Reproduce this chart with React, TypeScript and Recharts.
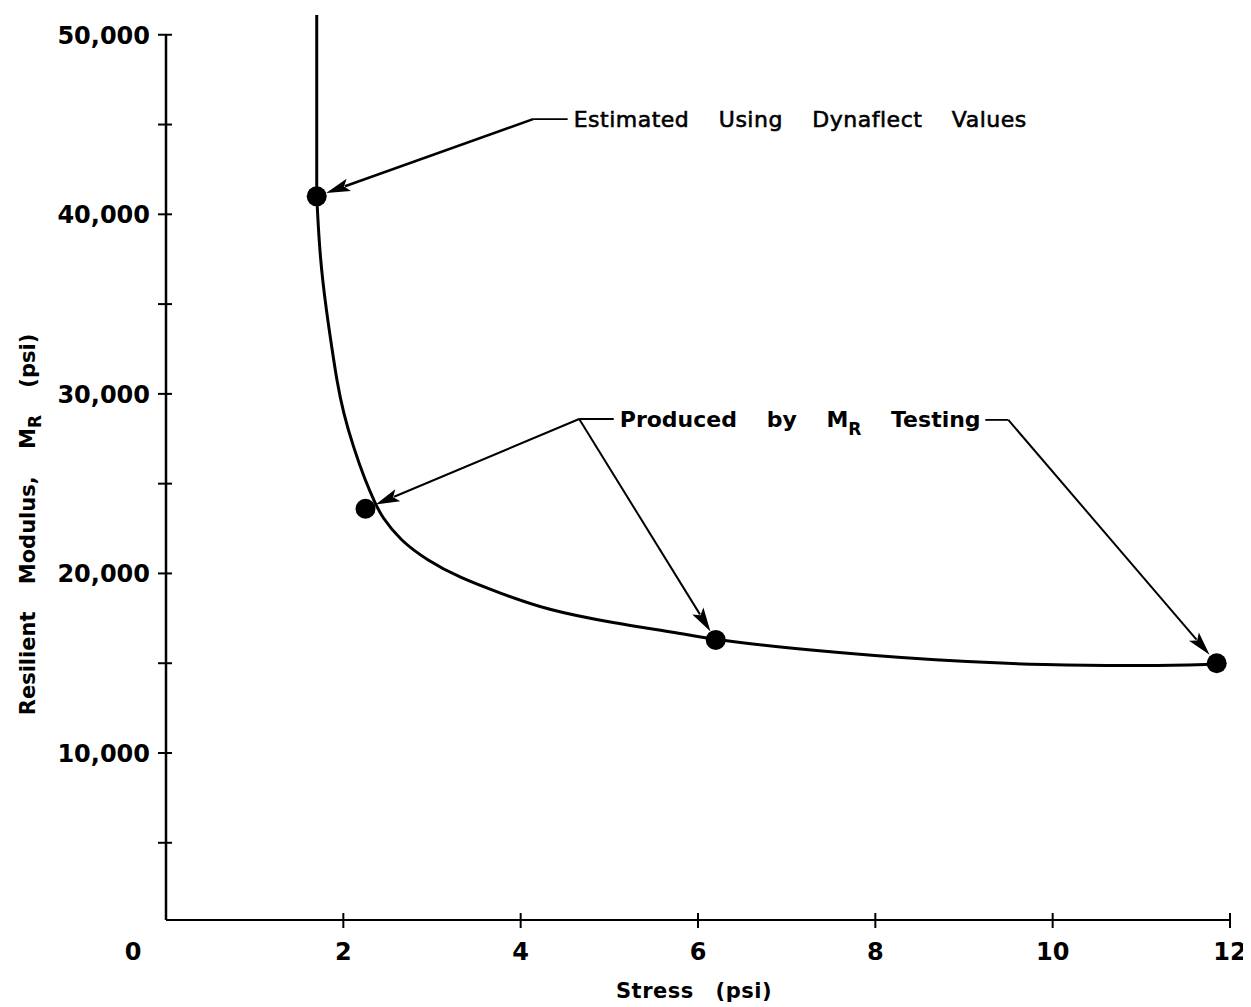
import React from 'react';
import { ComposedChart, Line, Scatter, XAxis, YAxis, ReferenceLine, Label } from 'recharts';

// ---- data ----
const curveStress = [
  1.7, 1.735, 1.812, 1.869, 1.925, 2.0, 2.112, 2.244, 2.357, 2.433, 2.639, 2.94, 3.316, 3.767,
  4.293, 5.041, 5.797, 6.18, 7.184, 8.74, 9.913, 11.075, 11.85,
];
const curveModulus = [
  41000, 37600, 34500, 32630, 30770, 28940, 27060, 25200, 23930, 23160, 21860, 20750, 19750, 18910,
  17970, 17240, 16680, 16310, 15740, 15120, 14900, 14850, 14950,
];
const verticalStress = [1.7, 1.7];
const verticalModulus = [41000, 51100];
const pointStress = [1.7, 2.25, 6.2, 11.85];
const pointModulus = [41000, 23600, 16300, 15000];
const xTicks = [0, 2, 4, 6, 8, 10, 12];
const yTicks = [5000, 10000, 15000, 20000, 25000, 30000, 35000, 40000, 45000, 50000];
const yLabelled = [10000, 20000, 30000, 40000, 50000];
const xDomain = [0, 12];
const yDomain = [700, 51100];

const noteDynaflect = 'Estimated Using Dynaflect Values';
const noteDynaflectElbow = { x: 4.14, y: 45300 };
const noteDynaflectTextStart = { x: 4.53, y: 45300 };

const noteTestingElbow = { x: 4.66, y: 28600 };
const noteTestingTextStart = { x: 5.05, y: 28600 };
const noteTestingRightStart = { x: 9.24, y: 28550 };
const noteTestingRightElbow = { x: 9.5, y: 28550 };

const curveData = curveStress.map((x, i) => ({ x, y: curveModulus[i] }));
const verticalData = verticalStress.map((x, i) => ({ x, y: verticalModulus[i] }));
const pointData = pointStress.map((x, i) => ({ x, y: pointModulus[i] }));

const FONT = '"DejaVu Sans", sans-serif';
const fmt = (v: number) => v.toLocaleString('en-US');

const XTick = (props: any) => {
  const { x, y, payload } = props;
  const v = payload.value;
  return (
    <g>
      {v !== 0 && <line x1={x} x2={x} y1={y - 7} y2={y + 8} stroke="#000" strokeWidth={2} />}
      <text x={v === 0 ? x - 33 : x} y={y + 40} textAnchor="middle" fontSize={24} fontWeight="bold" fontFamily={FONT} fill="#000">
        {String(v)}
      </text>
    </g>
  );
};

const YTick = (props: any) => {
  const { x, y, payload } = props;
  const v = payload.value;
  return (
    <g>
      <line x1={x - 8} x2={x + 6} y1={y} y2={y} stroke="#000" strokeWidth={2} />
      {yLabelled.includes(v) && (
        <text x={x - 16} y={y + 9} textAnchor="end" fontSize={24} fontWeight="bold" fontFamily={FONT} fill="#000">
          {fmt(v)}
        </text>
      )}
    </g>
  );
};

const YTitle = (props: any) => {
  const vb = props.viewBox || { x: 0, y: 0, width: 0, height: 0 };
  const cx = vb.x + vb.width - 138;
  const cy = vb.y + vb.height * 0.563;
  return (
    <text
      x={cx}
      y={cy}
      transform={`rotate(-90 ${cx} ${cy})`}
      textAnchor="middle"
      dominantBaseline="central"
      fontSize={21}
      fontWeight="bold"
      fontFamily={FONT}
      wordSpacing={20}
      fill="#000"
    >
      Resilient Modulus, M
      <tspan dy={7} fontSize={17}>R</tspan>
      <tspan dy={-7}> (psi)</tspan>
    </text>
  );
};

const XTitle = (props: any) => {
  const vb = props.viewBox || { x: 0, y: 0, width: 0, height: 0 };
  return (
    <text
      x={vb.x + vb.width / 2 - 4}
      y={vb.y + 78}
      textAnchor="middle"
      fontSize={21}
      fontWeight="bold"
      fontFamily={FONT}
      letterSpacing={0.5}
      wordSpacing={14}
      fill="#000"
    >
      Stress (psi)
    </text>
  );
};

const arrowShape = (width: number, shorten: number) => (props: any) => {
  const { x1, y1, x2, y2 } = props;
  const dx = x2 - x1;
  const dy = y2 - y1;
  const len = Math.hypot(dx, dy) || 1;
  const ux = dx / len;
  const uy = dy / len;
  const tx = x2 - ux * shorten;
  const ty = y2 - uy * shorten;
  const headLen = 24;
  const headW = 6.5;
  const bx = tx - ux * headLen;
  const by = ty - uy * headLen;
  const px = -uy;
  const py = ux;
  return (
    <g>
      <line x1={x1} y1={y1} x2={bx + ux * 4} y2={by + uy * 4} stroke="#000" strokeWidth={width} />
      <polygon
        points={`${tx},${ty} ${bx + px * headW},${by + py * headW} ${bx + ux * 5},${by + uy * 5} ${bx - px * headW},${by - py * headW}`}
        fill="#000"
      />
    </g>
  );
};

const leaderWithText = (content: React.ReactNode, light: boolean) => (props: any) => {
  const { x1, y1, x2, y2 } = props;
  return (
    <g>
      <line x1={x1} y1={y1} x2={x2} y2={y2} stroke="#000" strokeWidth={1.8} />
      <text
        x={x2 + 6}
        y={y2 + 8}
        fontSize={22}
        fontWeight={light ? 'normal' : 'bold'}
        fontFamily={FONT}
        letterSpacing={light ? 0.5 : 0}
        wordSpacing={light ? 22 : 22}
        fill="#000"
        stroke={light ? '#000' : 'none'}
        strokeWidth={light ? 0.6 : 0}
      >
        {content}
      </text>
    </g>
  );
};

const plainLeader = (props: any) => {
  const { x1, y1, x2, y2 } = props;
  return <line x1={x1} y1={y1} x2={x2} y2={y2} stroke="#000" strokeWidth={1.8} />;
};

const testingText = (
  <>
    Produced by M
    <tspan dy={8} fontSize={17}>R</tspan>
    <tspan dy={-8}> Testing</tspan>
  </>
);

const Dot = (p: any) => <circle cx={p.cx} cy={p.cy} r={10} fill="#000" />;

export default function App() {
  return (
    <div style={{ width: 1240, height: 995, background: '#fff' }}>
      <ComposedChart width={1240} height={995} margin={{ top: 7, right: 18, left: 98, bottom: 53 }}>
        <XAxis
          type="number"
          dataKey="x"
          domain={xDomain}
          ticks={xTicks}
          interval={0}
          height={30}
          tickSize={0}
          tickMargin={0}
          tickLine={false}
          axisLine={{ stroke: '#000', strokeWidth: 2 }}
          tick={<XTick />}
          allowDataOverflow
        >
          <Label content={<XTitle />} />
        </XAxis>
        <YAxis
          type="number"
          dataKey="y"
          domain={yDomain}
          ticks={yTicks}
          interval={0}
          width={60}
          tickSize={0}
          tickMargin={0}
          tickLine={false}
          axisLine={false}
          tick={<YTick />}
          allowDataOverflow
        >
          <Label content={<YTitle />} />
        </YAxis>

        <ReferenceLine
          segment={[{ x: 0, y: yDomain[0] }, { x: 0, y: 50000 }]}
          stroke="#000"
          strokeWidth={2.5}
          ifOverflow="visible"
        />

        <Line data={verticalData} dataKey="y" type="linear" stroke="#000" strokeWidth={3} dot={false} isAnimationActive={false} />
        <Line data={curveData} dataKey="y" type="basis" stroke="#000" strokeWidth={3} dot={false} isAnimationActive={false} />
        <Scatter data={pointData} dataKey="y" fill="#000" shape={Dot} isAnimationActive={false} />

        {/* Dynaflect annotation */}
        <ReferenceLine
          segment={[noteDynaflectElbow, noteDynaflectTextStart]}
          ifOverflow="visible"
          shape={leaderWithText(noteDynaflect, true)}
        />
        <ReferenceLine
          segment={[noteDynaflectElbow, pointData[0]]}
          ifOverflow="visible"
          shape={arrowShape(2.5, 10)}
        />

        {/* MR testing annotation */}
        <ReferenceLine
          segment={[noteTestingElbow, noteTestingTextStart]}
          ifOverflow="visible"
          shape={leaderWithText(testingText, false)}
        />
        <ReferenceLine segment={[noteTestingElbow, pointData[1]]} ifOverflow="visible" shape={arrowShape(2, 11)} />
        <ReferenceLine segment={[noteTestingElbow, pointData[2]]} ifOverflow="visible" shape={arrowShape(2, 10)} />
        <ReferenceLine
          segment={[noteTestingRightStart, noteTestingRightElbow]}
          ifOverflow="visible"
          shape={plainLeader}
        />
        <ReferenceLine segment={[noteTestingRightElbow, pointData[3]]} ifOverflow="visible" shape={arrowShape(2, 11)} />
      </ComposedChart>
    </div>
  );
}
